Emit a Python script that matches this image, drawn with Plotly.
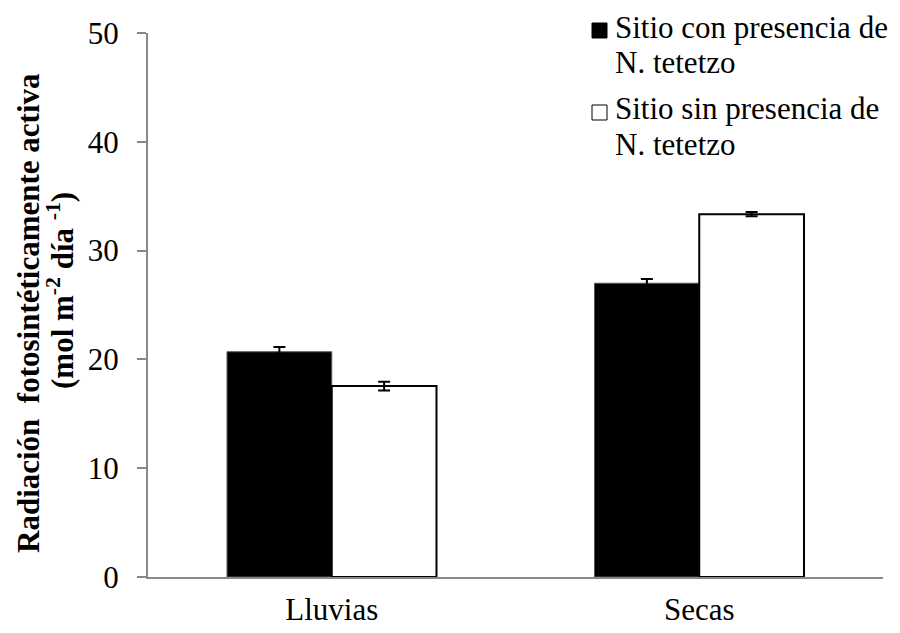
import plotly.graph_objects as go

categories = ["Lluvias", "Secas"]
con_vals = [20.7, 27.0]
con_err = [0.45, 0.4]
sin_vals = [17.55, 33.35]
sin_err = [0.4, 0.2]
series_names = ["Sitio con presencia de N. tetetzo", "Sitio sin presencia de N. tetetzo"]
legend_lines = [["Sitio con presencia de", "N. tetetzo"], ["Sitio sin presencia de", "N. tetetzo"]]
y_ticks = [0, 10, 20, 30, 40, 50]
y_title_lines = ["<b>Radiación  fotosintéticamente activa</b>",
                 "<b>(mol m<sup>-2</sup> día <sup>-1</sup>)</b>"]

FONT = "Liberation Serif"
FS = 31

# page offset from default body margin
OFF = 8
# plot area in page pixels: left 148, right 883, top 33, bottom 577
W, H = 900 - OFF, 633 - OFF
L, T = 148 - OFF, 33 - OFF
R, B = 900 - 883, 633 - 577
PW, PH = W - L - R, H - T - B

def px_x(p):
    return (p - OFF - L) / PW

def px_y(p):
    return 1 - (p - OFF - T) / PH

fig = go.Figure()
fig.add_trace(go.Bar(
    x=categories, y=con_vals, name=series_names[0], showlegend=False,
    marker=dict(color="black", line=dict(color="#555555", width=1)),
    error_y=dict(type="data", array=con_err, color="black", thickness=2, width=6),
))
fig.add_trace(go.Bar(
    x=categories, y=sin_vals, name=series_names[1], showlegend=False,
    marker=dict(color="white", line=dict(color="black", width=2)),
    error_y=dict(type="data", array=sin_err, color="black", thickness=2, width=6),
))

annotations = []
shapes = []
# y-axis title, two lines
for txt, cx, cy in [(y_title_lines[0], 28, 313), (y_title_lines[1], 60, 291)]:
    annotations.append(dict(
        text=txt, xref="paper", yref="paper", x=px_x(cx), y=px_y(cy),
        xanchor="center", yanchor="middle", textangle=-90, showarrow=False,
        font=dict(family=FONT, size=FS, color="black"),
    ))
# legend (manual, to match line spacing)
text_centers = [[27.5, 62.5], [109, 144]]
square_tops = [23, 105]
fills = ["black", "white"]
for i in range(2):
    for line, cy in zip(legend_lines[i], text_centers[i]):
        annotations.append(dict(
            text=line, xref="paper", yref="paper", x=px_x(613), y=px_y(cy),
            xanchor="left", yanchor="middle", showarrow=False,
            font=dict(family=FONT, size=FS, color="black"),
        ))
    shapes.append(dict(
        type="rect", xref="paper", yref="paper",
        x0=px_x(592), x1=px_x(607), y0=px_y(square_tops[i] + 15), y1=px_y(square_tops[i]),
        fillcolor=fills[i], line=dict(color="black", width=1),
    ))

fig.update_layout(
    width=W, height=H,
    margin=dict(l=L, r=R, t=T, b=B, autoexpand=False),
    paper_bgcolor="white", plot_bgcolor="white",
    barmode="group", bargap=0.43, bargroupgap=0,
    font=dict(family=FONT, size=FS, color="black"),
    showlegend=False,
    annotations=annotations, shapes=shapes,
)
fig.update_xaxes(
    showline=True, linecolor="#888888", linewidth=2, automargin=False,
    ticks="", showgrid=False, zeroline=False, ticklabelstandoff=4,
    tickfont=dict(family=FONT, size=FS, color="black"),
)
fig.update_yaxes(
    range=[0, 50], tickvals=y_ticks, showline=True, linecolor="#888888", linewidth=2,
    automargin=False,
    ticks="outside", ticklen=9, tickcolor="#888888", tickwidth=2,
    showgrid=False, zeroline=False, ticklabelstandoff=12,
    tickfont=dict(family=FONT, size=FS, color="black"),
)

fig.write_html("out.html")
